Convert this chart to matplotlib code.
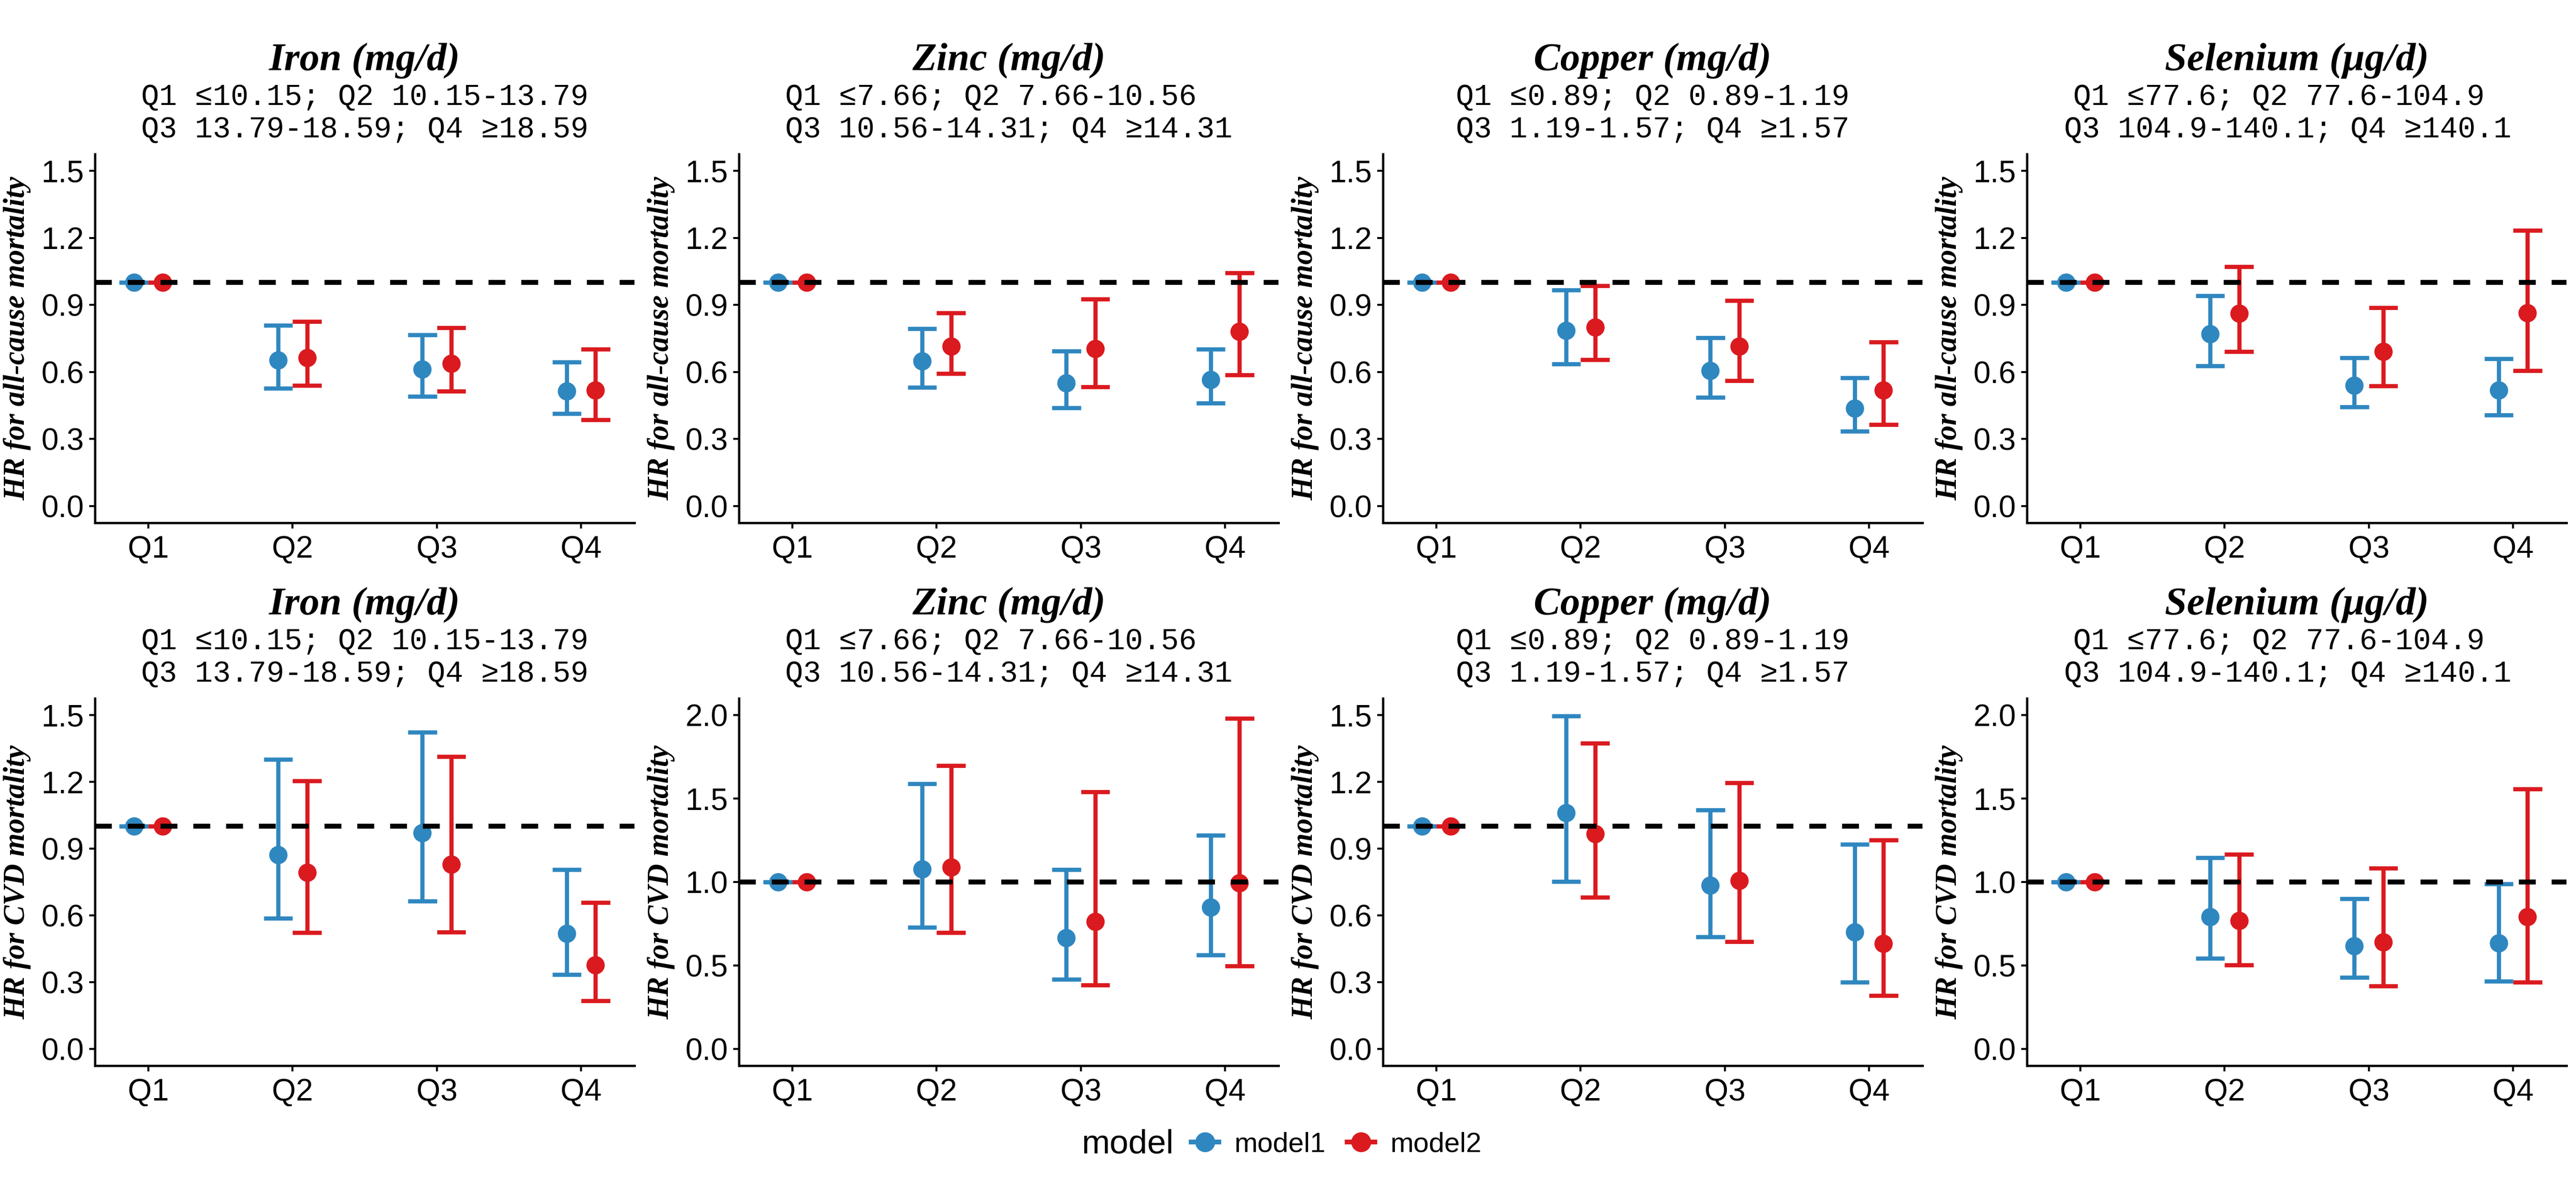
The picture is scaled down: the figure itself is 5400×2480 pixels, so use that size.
import numpy as np
import matplotlib.pyplot as plt
from matplotlib.lines import Line2D

# ---- data (rows: Iron, Zinc, Copper, Selenium; cols: Q1..Q4) ----
nutrients = ['Iron (mg/d)', 'Zinc (mg/d)', 'Copper (mg/d)', 'Selenium (μg/d)']
quartiles = ['Q1', 'Q2', 'Q3', 'Q4']
models = ['model1', 'model2']

# cut-off text under each title (trailing spaces keep the ragged alignment)
cutoffs = [
    ['Q1 ≤10.15; Q2 10.15-13.79', 'Q3 13.79-18.59; Q4 ≥18.59'],
    ['Q1 ≤7.66; Q2 7.66-10.56  ', 'Q3 10.56-14.31; Q4 ≥14.31'],
    ['Q1 ≤0.89; Q2 0.89-1.19', 'Q3 1.19-1.57; Q4 ≥1.57'],
    ['Q1 ≤77.6; Q2 77.6-104.9  ', 'Q3 104.9-140.1; Q4 ≥140.1 '],
]

# all-cause mortality
ac_m1_hr = [[1, 0.652, 0.613, 0.515], [1, 0.649, 0.550, 0.565],
            [1, 0.785, 0.605, 0.437], [1, 0.770, 0.539, 0.518]]
ac_m1_lo = [[1, 0.526, 0.490, 0.413], [1, 0.531, 0.440, 0.460],
            [1, 0.636, 0.487, 0.335], [1, 0.628, 0.443, 0.408]]
ac_m1_hi = [[1, 0.809, 0.766, 0.644], [1, 0.793, 0.694, 0.702],
            [1, 0.966, 0.754, 0.573], [1, 0.942, 0.663, 0.660]]
ac_m2_hr = [[1, 0.664, 0.639, 0.518], [1, 0.715, 0.704, 0.782],
            [1, 0.801, 0.715, 0.518], [1, 0.861, 0.691, 0.864]]
ac_m2_lo = [[1, 0.539, 0.514, 0.385], [1, 0.594, 0.534, 0.586],
            [1, 0.655, 0.561, 0.364], [1, 0.691, 0.537, 0.605]]
ac_m2_hi = [[1, 0.825, 0.798, 0.702], [1, 0.864, 0.927, 1.044],
            [1, 0.985, 0.919, 0.735], [1, 1.071, 0.887, 1.233]]

# CVD mortality
cvd_m1_hr = [[1, 0.873, 0.971, 0.518], [1, 1.077, 0.667, 0.848],
             [1, 1.060, 0.736, 0.525], [1, 0.792, 0.618, 0.635]]
cvd_m1_lo = [[1, 0.587, 0.665, 0.335], [1, 0.729, 0.418, 0.563],
             [1, 0.752, 0.504, 0.299], [1, 0.543, 0.430, 0.406]]
cvd_m1_hi = [[1, 1.301, 1.422, 0.806], [1, 1.589, 1.075, 1.280],
             [1, 1.496, 1.074, 0.920], [1, 1.147, 0.899, 0.990]]
cvd_m2_hr = [[1, 0.793, 0.830, 0.377], [1, 1.089, 0.763, 0.993],
             [1, 0.966, 0.757, 0.473], [1, 0.768, 0.640, 0.792]]
cvd_m2_lo = [[1, 0.522, 0.525, 0.217], [1, 0.696, 0.382, 0.498],
             [1, 0.681, 0.482, 0.239], [1, 0.502, 0.377, 0.401]]
cvd_m2_hi = [[1, 1.205, 1.313, 0.658], [1, 1.698, 1.541, 1.981],
             [1, 1.373, 1.196, 0.938], [1, 1.167, 1.082, 1.558]]

cvd_ymax = [1.5, 2.0, 1.5, 2.0]
ac_ymax = [1.5, 1.5, 1.5, 1.5]

colors = ['#2F87C0', '#DA1A1F']

plt.rcParams['font.family'] = ['Liberation Sans', 'DejaVu Sans']

W, H = 5400, 2480
fig = plt.figure(figsize=(W / 300, H / 300), dpi=300)


def add_axes_px(left, top, right, bottom):
    return fig.add_axes([left / W, 1 - bottom / H, (right - left) / W, (bottom - top) / H])


def draw_panel(ax, i, data, ymax, ylabel):
    xs = np.arange(1, 5)
    for j, (hr, lo, hi) in enumerate(data):
        x = xs + (-0.1 if j == 0 else 0.1)
        c = colors[j]
        ax.vlines(x, lo[i], hi[i], color=c, lw=2.1, zorder=2)
        ax.hlines(lo[i], x - 0.1, x + 0.1, color=c, lw=2.1, zorder=2)
        ax.hlines(hi[i], x - 0.1, x + 0.1, color=c, lw=2.1, zorder=2)
        ax.plot(x, hr[i], 'o', ms=8.2, color=c, zorder=3)
    ax.axhline(1.0, color='black', lw=2.5, ls=(0, (3.4, 3.2)), zorder=4)

    step = 0.3 if ymax == 1.5 else 0.5
    ticks = np.arange(0, ymax + 1e-9, step)
    ax.set_yticks(ticks)
    ax.set_yticklabels([f'{t:.1f}' for t in ticks])
    ax.set_ylim(-0.05 * ymax, 1.05 * ymax)
    ax.set_xticks(xs)
    ax.set_xticklabels(quartiles)
    ax.set_xlim(0.63, 4.37)

    for s in ['top', 'right']:
        ax.spines[s].set_visible(False)
    for s in ['left', 'bottom']:
        ax.spines[s].set_linewidth(1.15)
    ax.tick_params(axis='both', length=2.9, width=1.0, labelsize=15.5, color='black')
    ax.tick_params(axis='x', pad=3.3)
    ax.tick_params(axis='y', pad=2.6)

    # title and quartile cut-offs
    ax.annotate(nutrients[i], xy=(0.5, 1), xycoords='axes fraction',
                xytext=(0, 42.2), textcoords='offset points', ha='center', va='baseline',
                family='Liberation Serif', weight='bold', style='italic', fontsize=20)
    for k, line in enumerate(cutoffs[i]):
        ax.annotate(line, xy=(0.5, 1), xycoords='axes fraction',
                    xytext=(-len(line) * 0.6 * 15 / 2, [24.7, 8.4][k]), textcoords='offset points',
                    ha='left', va='baseline', family=['Liberation Mono', 'DejaVu Sans Mono'],
                    fontsize=15)
    ax.annotate(ylabel, xy=(0, 0.5), xycoords='axes fraction', xytext=(-39, 0),
                textcoords='offset points', ha='center', va='center', rotation=90,
                family='Liberation Serif', weight='bold', style='italic', fontsize=15)


for i in range(4):
    left = 1350 * i + 199
    right = 1350 * i + 1330
    ax_top = add_axes_px(left, 323, right, 1096)
    draw_panel(ax_top, i, [(ac_m1_hr, ac_m1_lo, ac_m1_hi), (ac_m2_hr, ac_m2_lo, ac_m2_hi)],
               ac_ymax[i], 'HR for all-cause mortality')
    ax_bot = add_axes_px(left, 1464, right, 2234)
    draw_panel(ax_bot, i, [(cvd_m1_hr, cvd_m1_lo, cvd_m1_hi), (cvd_m2_hr, cvd_m2_lo, cvd_m2_hi)],
               cvd_ymax[i], 'HR for CVD mortality')

# legend at the bottom
fig.text(2267 / W, 1 - 2399 / H, 'model', ha='left', va='center', fontsize=17)
handles = [Line2D([0], [0], color=colors[j], marker='o', ms=9, lw=2.4) for j in range(2)]
fig.legend(handles, models, loc='center left', bbox_to_anchor=(2497 / W, 1 - 2399 / H),
           ncol=2, frameon=False, fontsize=14, handlelength=1.0, handletextpad=0.55,
           columnspacing=0.77, borderpad=0, borderaxespad=0)

fig.savefig('out.png', dpi=300)
